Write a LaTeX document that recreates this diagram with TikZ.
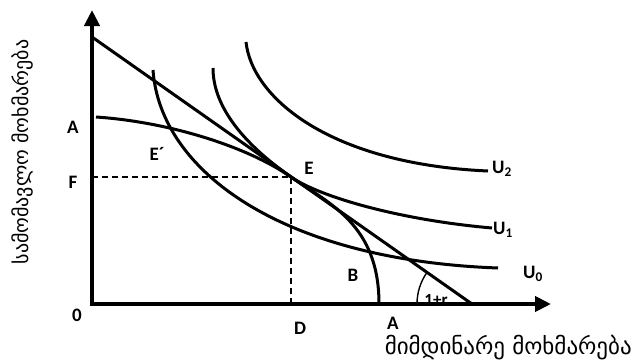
\documentclass[tikz,border=0pt]{standalone}
\usepackage{fontspec}
\setmainfont{Carlito}
\newfontfamily\geofont{DejaVu Sans}
\usetikzlibrary{arrows.meta,calc}
\tikzset{
  axisline/.style={line width=4pt,-{Triangle[length=16pt,width=15pt]}},
  curve/.style={line width=3pt},
  guide/.style={line width=1.3pt,dash pattern=on 6pt off 4pt},
  ptlabel/.style={font=\fontsize{19}{22}\selectfont\bfseries,inner sep=0pt},
  geolabel/.style={font=\geofont\fontsize{23}{27}\selectfont,inner sep=0pt},
}

\begin{document}
\begin{tikzpicture}[x=1pt,y=1pt]
    \useasboundingbox (0,0) rectangle (637,360);

    \coordinate (O) at (92,56);
    \coordinate (ytop) at (92,350);
    \coordinate (xend) at (551,56);
    \coordinate (budA) at (92,323);
    \coordinate (budB) at (472,56);
    \coordinate (E) at (291,183);
    \coordinate (F) at (92,183);
    \coordinate (D) at (291,56);

    % slope label sits under the axis
    \node[ptlabel,font=\fontsize{17}{20}\selectfont\bfseries] (slope) at (436,60) {1+r};

    % axes
    \draw[axisline] ($(O)+(0,-2)$) -- (ytop);
    \draw[axisline] ($(O)+(-2,0)$) -- (xend);

    % dashed guides to E
    \draw[guide] (F) -- (E);
    \draw[guide] (D) -- (E);

    % budget line and angle
    \draw[curve] (budA) -- (budB);
    \draw[line width=1.4pt] ($(budB)+(-55,0)$) arc[start angle=180,end angle=145,radius=55pt];

    % production frontier A--A
    \coordinate (ppfA) at (96,243);
    \coordinate (ppfB) at (379,56);
    \draw[curve] (ppfA) .. controls (170,238) and (248,213) .. (E)
                        .. controls (330,156) and (379,135) .. (ppfB);

    % indifference curves
    \coordinate (u0s) at (153,290);
    \coordinate (u0e) at (498,92);
    \draw[curve] (u0s) .. controls (160,190) and (280,100) .. (u0e);

    \coordinate (u1s) at (213,292);
    \coordinate (u1e) at (492,132);
    \draw[curve] (u1s) .. controls (213,255) and (241,218) .. (E)
                       .. controls (320,163) and (400,140) .. (u1e);

    \coordinate (u2s) at (246,318);
    \coordinate (u2e) at (488,189);
    \draw[curve] (u2s) .. controls (252,262) and (330,196) .. (u2e);

    % labels
    \node[ptlabel] (lA) at (73,233) {A};
    \node[ptlabel] (lF) at (73,178) {F};
    \node[ptlabel] (l0) at (77,45) {0};
    \node[ptlabel] (lD) at (300,32) {D};
    \node[ptlabel] (lA2) at (393,37) {A};
    \node[ptlabel] (lB) at (353,85) {B};
    \node[ptlabel] (lE) at (309,192) {E};
    \node[ptlabel] (lE1) at (157,206) {E´};
    \node[ptlabel,anchor=west] (lU2) at (492,191) {U\textsubscript{2}};
    \node[ptlabel,anchor=west] (lU1) at (493,130) {U\textsubscript{1}};
    \node[ptlabel,anchor=west] (lU0) at (523,86) {U\textsubscript{0}};

    \node[geolabel,anchor=east] (xlab) at (632,12) {მიმდინარე მოხმარება};
    \node[geolabel,rotate=90,font=\geofont\fontsize{20}{24}\selectfont] (ylab) at (22,208) {სამომავლო მოხმარება};
  \end{tikzpicture}
\end{document}
